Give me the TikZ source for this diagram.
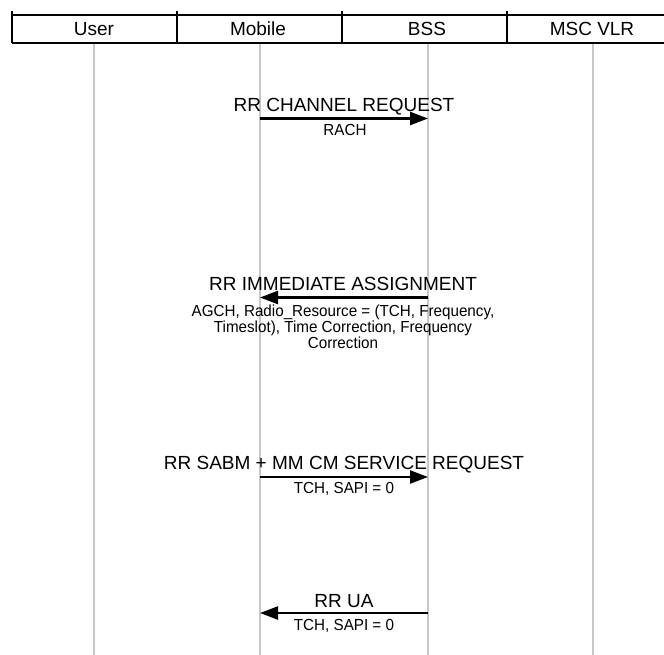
\documentclass[tikz,border=0pt]{standalone}
\usepackage{fontspec}
\setmainfont{Liberation Sans}
\newfontfamily\smallfam[FakeStretch=0.95]{Liberation Sans}
\usetikzlibrary{arrows.meta}
\begin{document}
\begin{tikzpicture}[x=1pt,y=-1pt,
  lifeline/.style={draw=black!22, line width=1.8pt},
  hdrline/.style={draw=black, line width=2pt},
  hdrtext/.style={font=\fontsize{19}{22}\selectfont, anchor=base, inner sep=0},
  msgtext/.style={font=\fontsize{19}{22}\selectfont, anchor=base, inner sep=0},
  subtext/.style={font=\smallfam\fontsize{16}{16}\selectfont, anchor=base, inner sep=0, align=center},
  msg/.style={draw=black, line width=2.3pt, -{Triangle[length=18pt,width=13pt]}}]
\useasboundingbox (0,0) rectangle (664,654);
\begin{scope}
\clip (0,0) rectangle (664,654);
% lifeline end points
\coordinate (uT) at (94,43);  \coordinate (uB) at (94,660);
\coordinate (mT) at (260,43); \coordinate (mB) at (260,660);
\coordinate (bT) at (428,43); \coordinate (bB) at (428,660);
\coordinate (vT) at (593,43); \coordinate (vB) at (593,660);
\draw[lifeline] (uT) -- (uB);
\draw[lifeline] (mT) -- (mB);
\draw[lifeline] (bT) -- (bB);
\draw[lifeline] (vT) -- (vB);
% header
\coordinate (hTL) at (12,15);  \coordinate (hTR) at (690,15);
\coordinate (hBL) at (12,43);  \coordinate (hBR) at (690,43);
\draw[hdrline] (hTL) -- (hTR);
\draw[hdrline] (hBL) -- (hBR);
\coordinate (d0t) at (12,11);  \coordinate (d0b) at (12,43);
\coordinate (d1t) at (177,11); \coordinate (d1b) at (177,43);
\coordinate (d2t) at (342,11); \coordinate (d2b) at (342,43);
\coordinate (d3t) at (507,11); \coordinate (d3b) at (507,43);
\draw[hdrline] (d0t) -- (d0b);
\draw[hdrline] (d1t) -- (d1b);
\draw[hdrline] (d2t) -- (d2b);
\draw[hdrline] (d3t) -- (d3b);
\node[hdrtext] (user) at (94,35) {User};
\node[hdrtext] (mobile) at (258,35) {Mobile};
\node[hdrtext] (bss) at (427,35) {BSS};
\node[hdrtext] (msc) at (592,35) {MSC VLR};
\end{scope}
% message 1
\node[msgtext] (l1) at (344,111.5) {RR CHANNEL REQUEST};
\node[subtext] (s1) at (345,135) {RACH};
\coordinate (m1a) at (260,118.5); \coordinate (m1b) at (428,118.5);
\draw[msg] (m1a) -- (m1b);
% message 2
\node[msgtext] (l2) at (343,290) {RR IMMEDIATE ASSIGNMENT};
\node[subtext] (s2) at (343,348) {AGCH, Radio\_Resource = (TCH, Frequency,\\Timeslot), Time Correction, Frequency\\Correction};
\coordinate (m2a) at (428,297.5); \coordinate (m2b) at (260,297.5);
\draw[msg] (m2a) -- (m2b);
% message 3
\node[msgtext] (l3) at (344,469) {RR SABM + MM CM SERVICE REQUEST};
\node[subtext] (s3) at (344,493) {TCH, SAPI = 0};
\coordinate (m3a) at (260,477); \coordinate (m3b) at (428,477);
\draw[msg] (m3a) -- (m3b);
% message 4
\node[msgtext] (l4) at (344,607) {RR UA};
\node[subtext] (s4) at (344,630) {TCH, SAPI = 0};
\coordinate (m4a) at (428,613); \coordinate (m4b) at (260,613);
\draw[msg] (m4a) -- (m4b);
\end{tikzpicture}
\end{document}
